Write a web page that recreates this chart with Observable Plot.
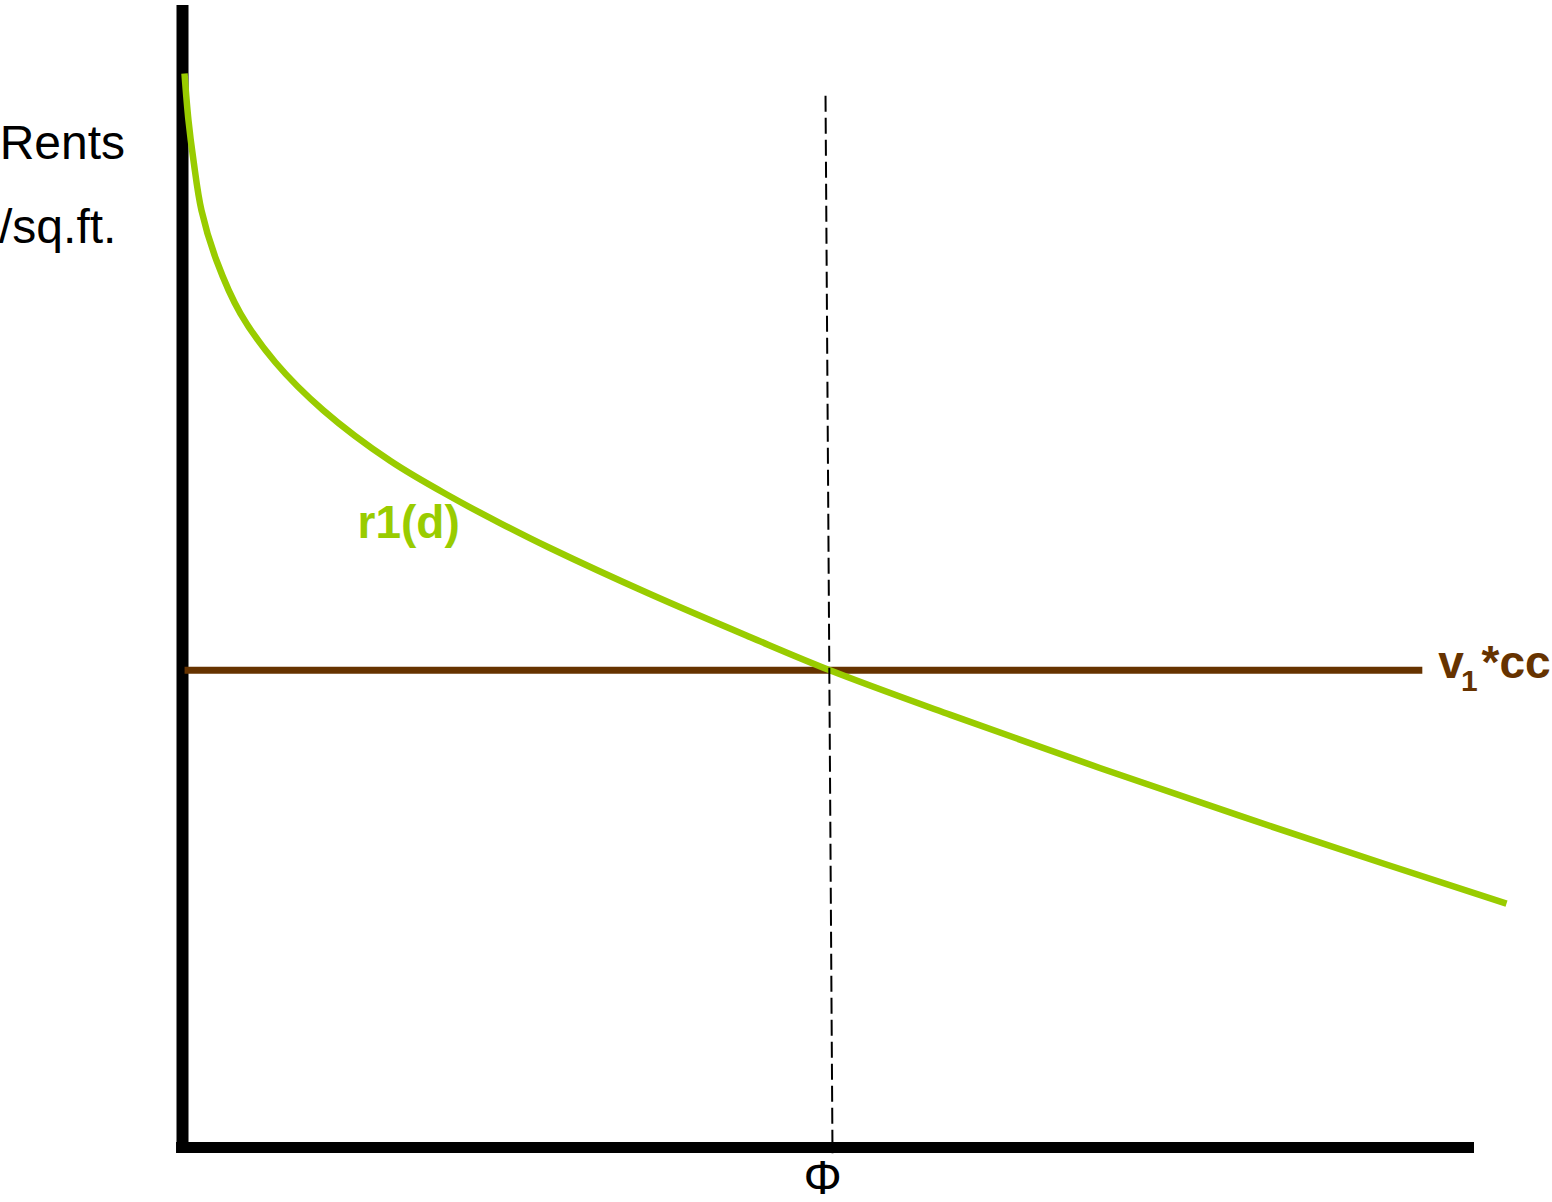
<!DOCTYPE html>
<html>
<head>
<meta charset="utf-8">
<script src="https://cdn.jsdelivr.net/npm/d3@7"></script>
<script src="https://cdn.jsdelivr.net/npm/@observablehq/plot@0.6"></script>
<style>
  html, body { margin: 0; padding: 0; background: #fff; }
  svg { display: block; }
</style>
</head>
<body>
<div id="chart"></div>
<script>
// Bid-rent curve r1(d): distance from centre vs rent per sq.ft. (arbitrary units)
const distance = [0.155, 0.464, 0.851, 1.471, 2.632, 4.489, 7.198, 10.913, 16.099, 20.975, 24.613, 28.483, 36.223, 43.963, 50.155, 59.443, 71.053, 86.533, 102.477];
const rent     = [94.05, 89.93, 86.43, 82.05, 77.67, 73.02, 68.74, 64.54, 60.11, 56.85, 54.66, 52.47, 48.44, 44.68, 41.77, 37.88, 33.21, 27.26, 21.35];

// Horizontal level v1*cc
const ccLevel = 41.8;
const ccStart = 0.2;
const ccEnd = 96.0;

// Critical distance Φ (dashed guide, slightly slanted in the original)
const phiTop = {d: 49.77, r: 92.1};
const phiBottom = {d: 50.31, r: -0.5};

// Axis extents
const axisMax = 100;

// Labels
const yLabels = [
  {text: "Rents", d: -14.15, r: 86.6},
  {text: "/sq.ft.", d: -14.2, r: 79.2}
];
const curveLabel = {text: "r1(d)", d: 13.55, r: 53.4};
const levelLabelParts = [
  {text: "v", d: 97.2, r: 41.07, size: 46},
  {text: "1", d: 98.95, r: 40.0, size: 30},
  {text: "*cc", d: 100.55, r: 41.07, size: 46}
];
const phiLabel = {text: "Φ", d: 49.54, r: -4.1};

const curve = distance.map((d, i) => ({d, r: rent[i]}));

const font = "'Liberation Sans', Arial, Helvetica, sans-serif";

const chart = Plot.plot({
  width: 1552,
  height: 1202,
  margin: 0,
  style: {background: "#fff", fontFamily: font, overflow: "visible"},
  x: {domain: [0, axisMax], range: [182, 1474], axis: null},
  y: {domain: [0, axisMax], range: [1147, 5], axis: null},
  marks: [
    // axes
    Plot.ruleX([0], {y1: -0.5, y2: axisMax, stroke: "#000", strokeWidth: 12}),
    Plot.ruleY([0], {x1: -0.46, x2: axisMax, stroke: "#000", strokeWidth: 11}),
    // horizontal v1*cc level
    Plot.ruleY([ccLevel], {x1: ccStart, x2: ccEnd, stroke: "#663300", strokeWidth: 7}),
    // bid-rent curve
    Plot.line(curve, {
      x: "d", y: "r", curve: "catmull-rom",
      stroke: "#99cc00", strokeWidth: 6.5, strokeLinecap: "butt"
    }),
    // dashed guide at Φ
    Plot.link([{}], {
      x1: () => phiTop.d, y1: () => phiTop.r,
      x2: () => phiBottom.d, y2: () => phiBottom.r,
      stroke: "#000", strokeWidth: 2, strokeDasharray: "16,6"
    }),
    // labels
    Plot.text(yLabels, {
      x: "d", y: "r", text: "text", textAnchor: "start", lineAnchor: "bottom",
      fontSize: 48, fill: "#000", fontFamily: font
    }),
    Plot.text([curveLabel], {
      x: "d", y: "r", text: "text", textAnchor: "start", lineAnchor: "bottom",
      fontSize: 46, fontWeight: "bold", fill: "#99cc00", fontFamily: font
    }),
    Plot.text(levelLabelParts, {
      x: "d", y: "r", text: "text", textAnchor: "start", lineAnchor: "bottom",
      fontSize: (p) => p.size, fontWeight: "bold", fill: "#663300", fontFamily: font
    }),
    Plot.text([phiLabel], {
      x: "d", y: "r", text: "text", textAnchor: "middle", lineAnchor: "bottom",
      fontSize: 48, fill: "#000", fontFamily: font
    })
  ]
});

document.getElementById("chart").appendChild(chart);
</script>
</body>
</html>
